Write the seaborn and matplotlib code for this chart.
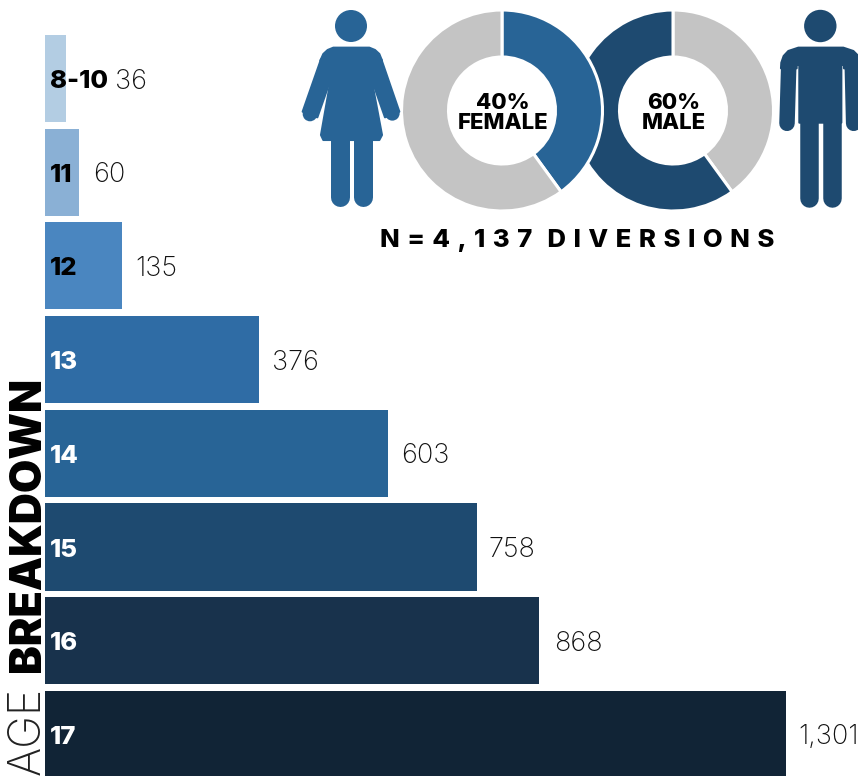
import numpy as np
import pandas as pd
import matplotlib
matplotlib.use("Agg")
import matplotlib.pyplot as plt
from matplotlib.patches import Polygon, Circle
import seaborn as sns

ages = ["8-10", "11", "12", "13", "14", "15", "16", "17"]
counts = [36, 60, 135, 376, 603, 758, 868, 1301]
count_labels = ["36", "60", "135", "376", "603", "758", "868", "1,301"]
bar_colors = ["#b3cde3", "#8ab0d5", "#4a86c0", "#2f6ca5", "#286496", "#1e4a70", "#18324c", "#112436"]
age_text_colors = ["black", "black", "black", "white", "white", "white", "white", "white"]
label_pads = [49, 14, 13, 13, 13, 12, 15, 12]
female_share = [40, 60]
male_share = [40, 60]
female_colors = ["#286496", "#c4c4c4"]
male_colors = ["#c4c4c4", "#1e4a70"]

sns.set_theme(style="white")
FONT = ["Inter", "DejaVu Sans"]
plt.rcParams["font.family"] = FONT

W, H = 858, 776
fig = plt.figure(figsize=(W / 100, H / 100), dpi=100, facecolor="white")

def box(l, t, r, b):
    return [l / W, 1 - b / H, (r - l) / W, (b - t) / H]

# Bars
ax = fig.add_axes(box(45, 31.65, 858, 781.25))
df = pd.DataFrame({"age": ages, "count": counts})
sns.barplot(data=df, y="age", x="count", hue="age", palette=bar_colors, dodge=False,
            legend=False, width=0.93, saturation=1, linewidth=0, ax=ax, orient="h")
ax.set_xlim(0, 813 / (741 / 1301))
ax.set_ylim(7.5, -0.5)
ax.axis("off")
for i, (c, lab, age, col, pad) in enumerate(zip(counts, count_labels, ages, age_text_colors, label_pads)):
    ax.annotate(age, (0, i), xytext=(5 * 0.72, -3 * 0.72), textcoords="offset points", va="center", ha="left",
                fontsize=18.5, fontweight=800, color=col, annotation_clip=False)
    ax.annotate(lab, (c, i), xytext=(pad * 0.72, -3 * 0.72), textcoords="offset points", va="center", ha="left",
                fontsize=19.5, fontweight="light", color="#111111", annotation_clip=False)

# Donuts (male beneath female)
def donut(cx, cy, shares, colors, z):
    R = 100.5
    a = fig.add_axes(box(cx - R, cy - R, cx + R, cy + R), zorder=z)
    a.pie(shares, colors=colors, startangle=90, counterclock=False, radius=1,
          wedgeprops=dict(width=47 / R, edgecolor="white", linewidth=2.2))
    a.set_xlim(-1, 1); a.set_ylim(-1, 1)
    a.set_aspect("equal")
    a.axis("off")
    return a

ma = donut(673, 110.5, male_share, male_colors, 2)
fa = donut(502, 110.5, female_share, female_colors, 3)
for a, pct, name in [(fa, "40%", "FEMALE"), (ma, "60%", "MALE")]:
    a.text(0.01, 0.075, pct, ha="center", va="center", fontsize=16, fontweight=800, color="black")
    a.text(0.01, -0.125, name, ha="center", va="center", fontsize=16, fontweight=800, color="black")

# Pixel overlay for icons and free text
ov = fig.add_axes([0, 0, 1, 1], zorder=5)
ov.set_xlim(0, W); ov.set_ylim(H, 0)
ov.axis("off"); ov.patch.set_alpha(0)

def zf(p):  # female icon crop coordinates
    return [(x / 3 + 290, y / 3) for x, y in p]
def zm(p):  # male icon crop coordinates
    return [(x / 3 + 570, y / 3) for x, y in p]
def limb(p, w, c):
    xs, ys = zip(*p)
    ov.plot(xs, ys, color=c, lw=w * 0.72, solid_capstyle="round", solid_joinstyle="round")
def poly(p, c):
    ov.add_patch(Polygon(p, closed=True, fc=c, ec=c, lw=1.5, joinstyle="round"))

fc = "#286496"
ov.add_patch(Circle((351, 26), 16, fc=fc, ec="none"))
poly(zf([(91, 182), (100, 162), (113, 150), (130, 143), (238, 143), (255, 150), (268, 162), (276, 182), (245, 240),
         (276, 405), (268, 420), (100, 420), (93, 405), (122, 240)]), fc)
poly(zf([(93, 178), (38, 335), (82, 352), (122, 238)]), fc)
poly(zf([(274, 178), (328, 335), (285, 352), (245, 238)]), fc)
ov.add_patch(Circle((290 + 60 / 3, 342 / 3), 7.3, fc=fc, ec="none"))
ov.add_patch(Circle((290 + 307 / 3, 340 / 3), 7.3, fc=fc, ec="none"))
limb(zf([(149, 415), (149, 590)]), 19, fc)
limb(zf([(218, 415), (218, 590)]), 19, fc)

mc = "#1e4a70"
ov.add_patch(Circle((820.3, 26), 16.2, fc=mc, ec="none"))
poly(zm([(633, 205), (634, 188), (641, 168), (655, 153), (685, 143), (820, 143), (850, 153), (865, 168), (872, 188),
         (873, 205), (822, 205), (822, 195), (814, 195), (814, 368), (688, 368), (688, 195), (680, 195), (680, 205)]), mc)
limb(zm([(656, 205), (651, 370)]), 15.5, mc)
limb(zm([(847, 205), (851, 370)]), 15.5, mc)
limb(zm([(716, 360), (716, 595)]), 18.5, mc)
limb(zm([(786, 360), (786, 595)]), 18.5, mc)

# Titles
gap = " \u200a"
title = gap.join("N=4,137") + gap + gap + gap.join("DIVERSIONS")
ov.text(577.5, 241, title, ha="center", va="center", fontsize=18.5, fontweight=800, color="black",
        family=FONT)
ov.text(40, 775, "AGE", rotation=90, rotation_mode="anchor", ha="left", va="baseline",
        fontsize=32, fontweight="light", color="#222222")
ov.text(40, 672, "BREAKDOWN", rotation=90, rotation_mode="anchor", ha="left", va="baseline",
        fontsize=31, fontweight="black", color="black")

fig.savefig("out.png", dpi=100)
